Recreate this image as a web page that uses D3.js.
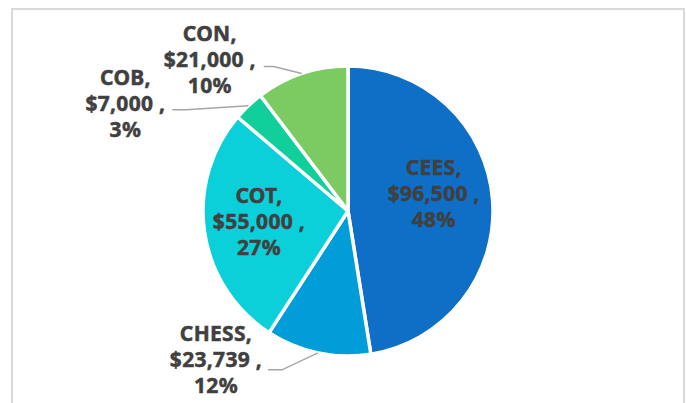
<!DOCTYPE html>
<html>
<head>
<meta charset="utf-8">
<script src="https://cdn.jsdelivr.net/npm/d3@7/dist/d3.min.js"></script>
<style>
  body { margin: 0; background: #ffffff; }
  .lbl { font-family: "Noto Sans", sans-serif; font-weight: bold; font-size: 21px; fill: #404040; stroke: #404040; stroke-width: 0.5px; letter-spacing: 0.3px; }
</style>
</head>
<body>
<div id="chart"></div>
<script>
// chart data
var categories = ["CEES", "CHESS", "COT", "COB", "CON"];
var amounts = [96500, 23739, 55000, 7000, 21000];
var percents = ["48%", "12%", "27%", "3%", "10%"];

// slice colours (Office Blue II)
var colors = ["#0F6FC6", "#009DD9", "#0BD0D9", "#10CF9B", "#7CCA62"];

// label layout: inside labels use a radius, outside labels use a leader line
// elbow/end/anchor are offsets from the point where the leader meets the pie edge
var labelLayout = [
	{ inside: true, r: 86, dy: -10 },
	{ inside: false, elbow: [-36, 17], end: [-50, 17], anchor: [-102, 7] },
	{ inside: true, r: 90, dy: -2 },
	{ inside: false, elbow: [-62, 4], end: [-76, 4], anchor: [-123, -2] },
	{ inside: false, elbow: [-28, -7], end: [-38, -7], anchor: [-92, -14] }
];

var size = { width: 686, height: 403 };
var center = { x: 348, y: 211 };
var radius = 145;
var lineHeight = 26;

var svg = d3.select("#chart").append("svg")
	.attr("width", size.width)
	.attr("height", size.height);

// chart area border
svg.append("rect")
	.attr("x", 12)
	.attr("y", 9)
	.attr("width", 672)
	.attr("height", 420)
	.attr("fill", "none")
	.attr("stroke", "#d9d9d9")
	.attr("stroke-width", 2);

var data = categories.map(function(c, i) {
	return { name: c, value: amounts[i], pct: percents[i], color: colors[i], layout: labelLayout[i] };
});

var pie = d3.pie()
	.sort(null)
	.value(function(d) { return d.value; });

var arc = d3.arc()
	.innerRadius(0)
	.outerRadius(radius);

var g = svg.append("g")
	.attr("transform", "translate(" + center.x + "," + center.y + ")");

var arcs = pie(data);

g.selectAll("path")
	.data(arcs)
	.enter()
	.append("path")
	.attr("d", arc)
	.attr("fill", function(d) { return d.data.color; })
	.attr("stroke", "#ffffff")
	.attr("stroke-width", 3.5)
	.attr("stroke-linejoin", "round");

var fmt = d3.format("$,");

// point on a circle of radius r at the slice's middle angle
function midPoint(d, r) {
	var a = (d.startAngle + d.endAngle) / 2;
	return [r * Math.sin(a), -r * Math.cos(a)];
}

arcs.forEach(function(d) {
	var lay = d.data.layout;
	var pos;
	if (lay.inside) {
		pos = midPoint(d, lay.r);
		pos[1] += lay.dy;
	} else {
		var edge = midPoint(d, radius);
		var pts = [edge,
			[edge[0] + lay.elbow[0], edge[1] + lay.elbow[1]],
			[edge[0] + lay.end[0], edge[1] + lay.end[1]]];
		g.append("path")
			.attr("d", d3.line()(pts))
			.attr("fill", "none")
			.attr("stroke", "#a6a6a6")
			.attr("stroke-width", 1.5);
		pos = [edge[0] + lay.anchor[0], edge[1] + lay.anchor[1]];
	}

	var lines = [d.data.name + ",", fmt(d.data.value) + " ,", d.data.pct];
	var t = g.append("text")
		.attr("class", "lbl")
		.attr("text-anchor", "middle")
		.attr("x", pos[0])
		.attr("y", pos[1]);
	lines.forEach(function(s, i) {
		t.append("tspan")
			.attr("x", pos[0])
			.attr("y", pos[1] + (i - 1) * lineHeight + 7)
			.text(s);
	});
});
</script>
</body>
</html>
